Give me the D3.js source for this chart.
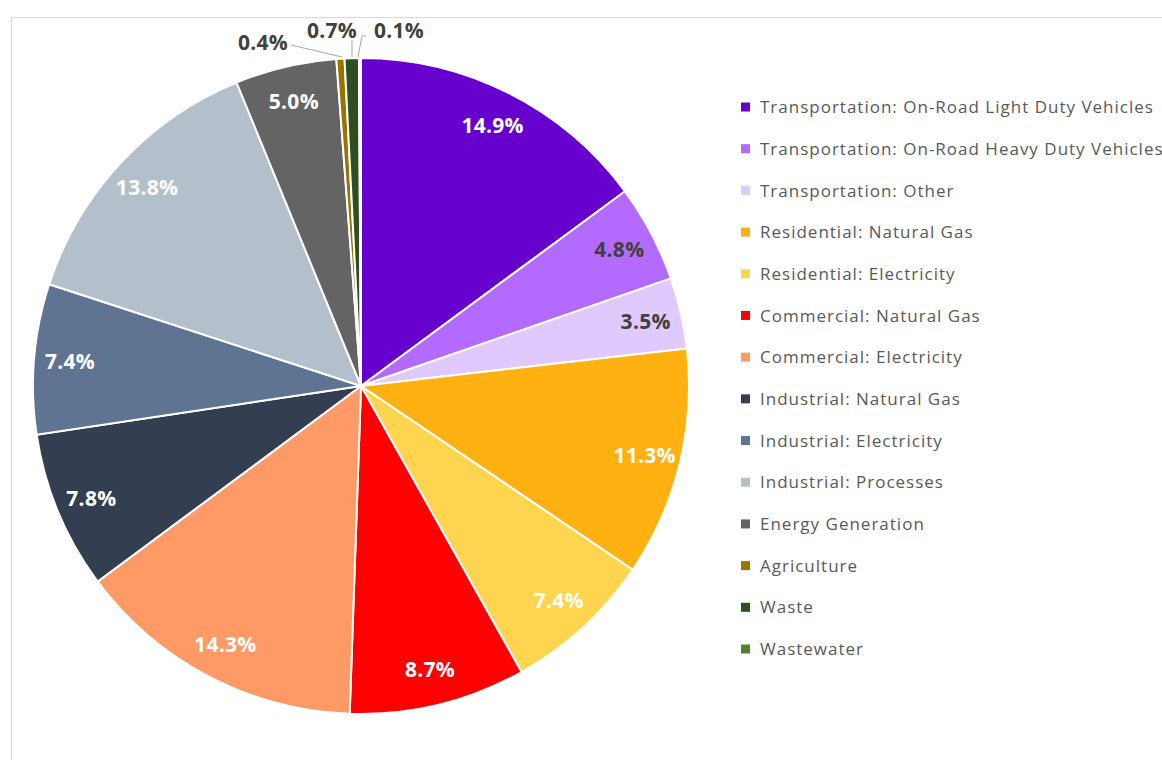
<!DOCTYPE html>
<html>
<head>
<meta charset="utf-8">
<script src="https://cdn.jsdelivr.net/npm/d3@7"></script>
<style>
  body { margin: 0; background: #fff; }
  svg { display: block; font-family: "Open Sans", Lato, sans-serif; }
</style>
</head>
<body>
<div id="chart"></div>
<script>
const categories = [
    'Transportation: On-Road Light Duty Vehicles',
    'Transportation: On-Road Heavy Duty Vehicles',
    'Transportation: Other',
    'Residential: Natural Gas',
    'Residential: Electricity',
    'Commercial: Natural Gas',
    'Commercial: Electricity',
    'Industrial: Natural Gas',
    'Industrial: Electricity',
    'Industrial: Processes',
    'Energy Generation',
    'Agriculture',
    'Waste',
    'Wastewater'
];
const shares = [14.9, 4.8, 3.5, 11.3, 7.4, 8.7, 14.3, 7.8, 7.4, 13.8, 5.0, 0.4, 0.7, 0.1];
const colors = ['#6600cc', '#b36bff', '#e0c9fd', '#ffb111', '#ffd550', '#ff0000', '#ff9966',
    '#333f50', '#5e7492', '#b4bfcc', '#646464', '#997300', '#2d4f22', '#548235'];
// label text colour for each slice (light slices get dark text)
const labelColors = ['#fff', '#404040', '#404040', '#fff', '#fff', '#fff', '#fff',
    '#fff', '#fff', '#fff', '#fff', '#404040', '#404040', '#404040'];

const width = 1162, height = 760;
const cx = 361, cy = 386, radius = 328;

const svg = d3.select('#chart').append('svg')
    .attr('width', width)
    .attr('height', height);

// chart area border
svg.append('path')
    .attr('d', `M11.5,${height} V17.5 H${width}`)
    .attr('fill', 'none')
    .attr('stroke', '#d9d9d9')
    .attr('stroke-width', 1);

const data = categories.map((c, i) => ({ name: c, value: shares[i], color: colors[i], text: labelColors[i] }));

const pie = d3.pie().value(d => d.value).sort(null);
const arcs = pie(data);

const arc = d3.arc().innerRadius(0).outerRadius(radius);
const labelArc = d3.arc().innerRadius(292).outerRadius(292);

const g = svg.append('g').attr('transform', `translate(${cx},${cy})`);

g.selectAll('.slice')
    .data(arcs)
    .enter().append('path')
    .attr('class', 'slice')
    .attr('d', arc)
    .attr('fill', d => d.data.color)
    .attr('stroke', '#fff')
    .attr('stroke-width', 2);

// labels inside the big slices
const big = arcs.filter(d => d.data.value >= 1);
g.selectAll('.label')
    .data(big)
    .enter().append('text')
    .attr('class', 'label')
    .attr('transform', d => `translate(${labelArc.centroid(d)})`)
    .attr('text-anchor', 'middle')
    .attr('dy', '0.36em')
    .attr('font-size', 21)
    .attr('font-weight', 'bold')
    .attr('letter-spacing', 0.3)
    .attr('fill', d => d.data.text)
    .text(d => d.data.value.toFixed(1) + '%');

// small slices get outside labels with leader lines
const small = arcs.filter(d => d.data.value < 1);
const smallPos = [[-98, -344], [-29, -356], [38, -356]]; // label offsets from centre
const leaderPts = [
    [[-70, -341], [-19, -329]],
    [[-9, -346], [-9, -329]],
    [[5, -350], [1, -350], [-3, -329]]
];
small.forEach((d, i) => {
    g.append('polyline')
        .attr('points', leaderPts[i].map(p => p.join(',')).join(' '))
        .attr('fill', 'none')
        .attr('stroke', '#a6a6a6')
        .attr('stroke-width', 1);
    g.append('text')
        .attr('x', smallPos[i][0])
        .attr('y', smallPos[i][1])
        .attr('text-anchor', 'middle')
        .attr('dy', '0.36em')
        .attr('font-size', 21)
        .attr('font-weight', 'bold')
        .attr('letter-spacing', 0.3)
        .attr('fill', '#404040')
        .text(d.data.value.toFixed(1) + '%');
});

// legend
const legendY = d3.scalePoint().domain(categories).range([107, 649]);
const legend = svg.append('g');
const items = legend.selectAll('.legend-item')
    .data(data)
    .enter().append('g')
    .attr('class', 'legend-item')
    .attr('transform', d => `translate(741,${legendY(d.name)})`);

items.append('rect')
    .attr('x', 0)
    .attr('y', -4.5)
    .attr('width', 9)
    .attr('height', 9)
    .attr('fill', d => d.color);

items.append('text')
    .attr('x', 19)
    .attr('dy', '0.36em')
    .attr('font-size', 17)
    .attr('letter-spacing', 1)
    .attr('fill', '#595959')
    .text(d => d.name);
</script>
</body>
</html>
